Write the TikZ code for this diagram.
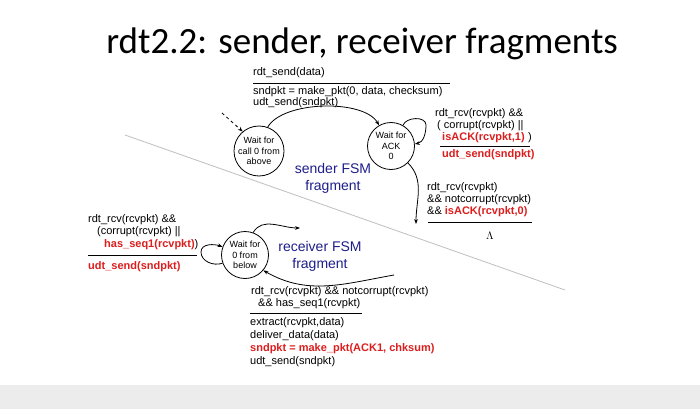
\documentclass[tikz,border=0pt]{standalone}
\usepackage{fontspec}
\setmainfont{Liberation Sans}
\newfontfamily\titlefont{Carlito}
\usetikzlibrary{arrows.meta}
\definecolor{redt}{RGB}{220,30,30}
\definecolor{bluet}{RGB}{30,30,140}
\begin{document}
\begin{tikzpicture}[x=1pt,y=-1pt,
  lbl/.style={anchor=west,inner sep=0pt,font=\fontsize{11}{12}\selectfont},
  rl/.style={lbl,text=redt,font=\fontsize{11}{12}\selectfont\bfseries},
  st/.style={circle,draw,thick,minimum size=50pt,inner sep=0pt,align=center,font=\fontsize{9}{10.5}\selectfont},
  fsm/.style={text=bluet,align=center,font=\fontsize{14}{17}\selectfont},
  arr/.style={-{Stealth[length=5pt]},thick},
  bar/.style={thick}]
\fill[gray!15] (0,0) rectangle (700,409);
\fill[white] (0,0) rectangle (700,385);
\node[font=\titlefont\fontsize{37}{40}\selectfont] (title) at (362,44) {rdt2.2: sender, receiver fragments};
\draw[gray!50,thick] (125,135) -- (565,290);
% sender
\node[st] (w0) at (259,151) {Wait for\\call 0 from\\above};
\node[st,minimum size=47pt] (a0) at (391,146) {Wait for\\ACK\\0};
\coordinate (ds) at (222,113);
\draw[arr,dashed] (ds) -- (w0.130);
\draw[arr] (w0.70) to[out=60,in=120,looseness=0.7] (a0.120);
\node[lbl] (t1) at (253,73) {rdt\_send(data)};
\draw[bar] (253,83) -- (450,83);
\node[lbl] (t2) at (253,92) {sndpkt = make\_pkt(0, data, checksum)};
\node[lbl] (t3) at (253,103) {udt\_send(sndpkt)};
\draw[arr] (a0.60) to[out=70,in=90] (426,125) to[out=-90,in=10] (a0.5);
\node[lbl] (s1) at (435,114) {rdt\_rcv(rcvpkt) \&\&};
\node[lbl] (s2) at (437,126) {( corrupt(rcvpkt) ||};
\node[rl] (s3) at (442,138) {isACK(rcvpkt,1)};
\node[lbl] at (s3.east) [anchor=west] {\ )};
\draw[bar] (440,146) -- (530,146);
\node[rl] (s4) at (442,155) {udt\_send(sndpkt)};
\coordinate (down) at (416,224);
\draw[arr] (a0.-45) to[out=-45,in=90] (down);
\node[lbl] (u1) at (427,188) {rdt\_rcv(rcvpkt)};
\node[lbl] (u2) at (427,200) {\&\& notcorrupt(rcvpkt)};
\node[lbl] (u3) at (427,212) {\&\& \textcolor{redt}{\bfseries isACK(rcvpkt,0)}};
\draw[bar] (428,222) -- (532,222);
\node[lbl] (lam) at (486,236) {$\Lambda$};
\node[fsm] (sf) at (333,178) {sender FSM\\fragment};
% receiver
\node[st,minimum size=47pt] (r0) at (245,255) {Wait for\\0 from\\below};
\draw[arr] (r0.200) to[out=200,in=-90] (201,252) to[out=90,in=160] (r0.160);
\node[lbl] (v1) at (88,220) {rdt\_rcv(rcvpkt) \&\&};
\node[lbl] (v2) at (97,232) {(corrupt(rcvpkt) ||};
\node[rl] (v3) at (104,245) {has\_seq1(rcvpkt)\textcolor{black}{\mdseries )}};
\draw[bar] (88,255) -- (197,255);
\node[rl] (v4) at (88,267) {udt\_send(sndpkt)};
\coordinate (out) at (300,228);
\draw[arr] (r0.70) to[out=60,in=180] (out);
\coordinate (in) at (394,275);
\draw[arr] (in) to[out=190,in=-30] (r0.-40);
\node[fsm] (rf) at (320,256) {receiver FSM\\fragment};
\node[lbl] (b1) at (251,292) {rdt\_rcv(rcvpkt) \&\& notcorrupt(rcvpkt)};
\node[lbl] (b2) at (258,304) {\&\& has\_seq1(rcvpkt)};
\draw[bar] (250,313) -- (362,313);
\node[lbl] (b3) at (250,323) {extract(rcvpkt,data)};
\node[lbl] (b4) at (250,336) {deliver\_data(data)};
\node[rl] (b5) at (250,349) {sndpkt = make\_pkt(ACK1, chksum)};
\node[lbl] (b6) at (250,362) {udt\_send(sndpkt)};
\end{tikzpicture}
\end{document}
